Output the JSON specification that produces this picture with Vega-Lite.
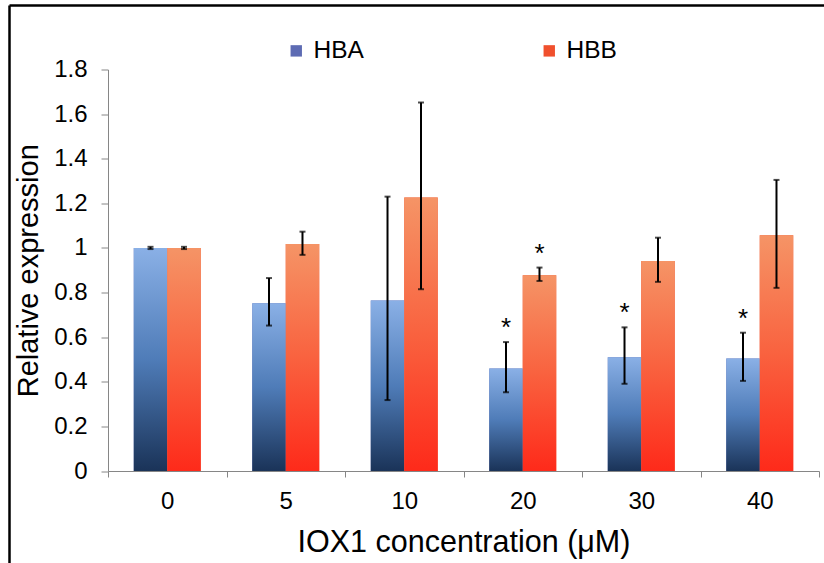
{
  "$schema": "https://vega.github.io/schema/vega-lite/v6.json",
  "autosize": {"type": "none"},
  "width": 711,
  "height": 401.5,
  "padding": {"left": 108, "top": 69.5, "right": 5, "bottom": 92},
  "background": "white",
  "config": {"font": "Liberation Sans", "view": {"stroke": null}},
  "data": {
    "values": [
      {"conc": "0", "series": "HBA", "value": 1.0, "lo": 0.995, "hi": 1.005, "sig": ""},
      {"conc": "0", "series": "HBB", "value": 1.0, "lo": 0.995, "hi": 1.005, "sig": ""},
      {"conc": "5", "series": "HBA", "value": 0.752, "lo": 0.652, "hi": 0.865, "sig": ""},
      {"conc": "5", "series": "HBB", "value": 1.018, "lo": 0.969, "hi": 1.073, "sig": ""},
      {"conc": "10", "series": "HBA", "value": 0.764, "lo": 0.318, "hi": 1.23, "sig": ""},
      {"conc": "10", "series": "HBB", "value": 1.226, "lo": 0.815, "hi": 1.652, "sig": ""},
      {"conc": "20", "series": "HBA", "value": 0.46, "lo": 0.353, "hi": 0.578, "sig": "*"},
      {"conc": "20", "series": "HBB", "value": 0.878, "lo": 0.852, "hi": 0.912, "sig": "*"},
      {"conc": "30", "series": "HBA", "value": 0.51, "lo": 0.391, "hi": 0.644, "sig": "*"},
      {"conc": "30", "series": "HBB", "value": 0.942, "lo": 0.848, "hi": 1.046, "sig": ""},
      {"conc": "40", "series": "HBA", "value": 0.504, "lo": 0.404, "hi": 0.62, "sig": "*"},
      {"conc": "40", "series": "HBB", "value": 1.057, "lo": 0.821, "hi": 1.305, "sig": ""}
    ]
  },
  "layer": [
    {
      "encoding": {
        "x": {
          "field": "conc",
          "type": "ordinal",
          "sort": ["0", "5", "10", "20", "30", "40"],
          "scale": {"paddingInner": 0, "paddingOuter": 0},
          "title": "IOX1 concentration (μM)",
          "axis": {
            "tickBand": "extent",
            "tickSize": 6,
            "tickColor": "#868686",
            "domainColor": "#868686",
            "labelAngle": 0,
            "labelFontSize": 24,
            "labelColor": "black",
            "labelPadding": 12,
            "titleFontSize": 30.5,
            "titleFontWeight": "normal",
            "titleColor": "black",
            "titlePadding": 14,
            "grid": false
          }
        },
        "xOffset": {
          "field": "series",
          "type": "nominal",
          "sort": ["HBA", "HBB"],
          "scale": {"paddingInner": 0, "paddingOuter": 0.77}
        }
      },
      "layer": [
        {
          "mark": {"type": "bar"},
          "encoding": {
            "y": {
              "field": "value",
              "type": "quantitative",
              "scale": {"domain": [0, 1.8], "nice": false},
              "title": "Relative expression",
              "axis": {
                "values": [0, 0.2, 0.4, 0.6, 0.8, 1, 1.2, 1.4, 1.6, 1.8],
                "format": "~g",
                "tickSize": 7,
                "tickColor": "#868686",
                "domainColor": "#868686",
                "labelFontSize": 24,
                "labelColor": "black",
                "labelPadding": 14,
                "titleFontSize": 29,
                "titleFontWeight": "normal",
                "titleColor": "black",
                "titlePadding": 10,
                "grid": false
              }
            },
            "color": {
              "field": "series",
              "type": "nominal",
              "scale": {"domain": ["HBA", "HBB"], "range": ["#5d6bb3", "#f0502d"]},
              "legend": {
                "orient": "none",
                "legendX": 176,
                "legendY": -31,
                "direction": "horizontal",
                "title": null,
                "labelFontSize": 24.5,
                "labelColor": "black",
                "symbolType": "square",
                "symbolSize": 130,
                "symbolStrokeWidth": 0,
                "columnPadding": 173,
                "labelOffset": 5,
                "padding": 0
              }
            }
          }
        },
        {
          "mark": {"type": "bar"},
          "encoding": {
            "y": {"field": "value", "type": "quantitative", "title": "Relative expression"},
            "color": {
              "condition": {
                "test": "datum.series === 'HBA'",
                "value": {
                  "gradient": "linear", "x1": 0, "y1": 0, "x2": 0, "y2": 1,
                  "stops": [{"offset": 0, "color": "#8ab0e6"}, {"offset": 0.5, "color": "#4f7cb8"}, {"offset": 1, "color": "#1a3358"}]
                }
              },
              "value": {
                "gradient": "linear", "x1": 0, "y1": 0, "x2": 0, "y2": 1,
                "stops": [{"offset": 0, "color": "#f59466"}, {"offset": 0.5, "color": "#f9623f"}, {"offset": 1, "color": "#fe2a1a"}]
              }
            }
          }
        },
        {
          "mark": {"type": "rule", "color": "black", "strokeWidth": 2},
          "encoding": {
            "y": {"field": "lo", "type": "quantitative", "title": "Relative expression"},
            "y2": {"field": "hi"}
          }
        },
        {
          "mark": {"type": "tick", "color": "black", "size": 6, "thickness": 2},
          "encoding": {
            "y": {"field": "lo", "type": "quantitative", "title": "Relative expression"}
          }
        },
        {
          "mark": {"type": "tick", "color": "black", "size": 6, "thickness": 2},
          "encoding": {
            "y": {"field": "hi", "type": "quantitative", "title": "Relative expression"}
          }
        },
        {
          "mark": {"type": "text", "fontSize": 26, "color": "black", "baseline": "middle", "dy": -14},
          "encoding": {
            "y": {"field": "hi", "type": "quantitative", "title": "Relative expression"},
            "text": {"field": "sig"}
          }
        }
      ]
    },
    {
      "mark": {"type": "point", "opacity": 0},
      "encoding": {
        "x": {
          "field": "conc",
          "type": "nominal",
          "scale": {"range": [-99, 716]},
          "axis": {"orient": "top", "offset": 64.5, "labels": false, "ticks": false, "grid": false, "title": null, "domainColor": "black", "domainWidth": 2.5}
        },
        "y": {
          "field": "value",
          "type": "quantitative",
          "scale": {"range": [493.5, -64.5]},
          "axis": {"orient": "left", "offset": 99, "labels": false, "ticks": false, "grid": false, "title": null, "domainColor": "black", "domainWidth": 2.5}
        }
      }
    }
  ],
  "resolve": {
    "scale": {"x": "independent", "y": "independent"},
    "axis": {"x": "independent", "y": "independent"}
  }
}
